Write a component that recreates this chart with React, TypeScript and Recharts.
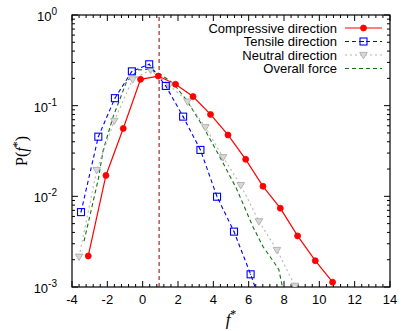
import React from 'react';
import { LineChart, Line, XAxis, YAxis, ReferenceLine, Customized } from 'recharts';

// ---- data ----
const compressiveF = [-3.08, -2.08, -1.1, -0.12, 0.88, 1.86, 2.85, 3.84, 4.83, 5.83, 6.81, 7.79, 8.77, 9.77, 10.75];
const compressiveP = [0.0022, 0.017, 0.056, 0.195, 0.212, 0.172, 0.126, 0.08, 0.0475, 0.0256, 0.0129, 0.0074, 0.00366, 0.00195, 0.00113];
const tensileF = [-3.49, -2.51, -1.57, -0.61, 0.37, 1.31, 2.29, 3.27, 4.21, 5.17, 6.11, 7.07];
const tensileP = [0.0067, 0.0455, 0.121, 0.239, 0.286, 0.165, 0.0757, 0.0325, 0.0099, 0.00408, 0.00138, 0.0004];
const neutralF = [-3.6, -2.6, -1.61, -0.57, 0.45, 1.5, 2.54, 3.55, 4.55, 5.55, 6.58, 7.6, 8.62];
const neutralP = [0.00216, 0.0195, 0.068, 0.195, 0.248, 0.169, 0.111, 0.0578, 0.027, 0.0133, 0.0053, 0.00256, 0.00103];
const overallF = [-3.32, -2.52, -2.23, -1.67, -0.91, -0.25, 0.41, 0.97, 1.72, 2.48, 3.42, 4.36, 5.3, 6.24, 6.81, 7.47, 7.71, 7.92];
const overallP = [0.0032, 0.0152, 0.0325, 0.0757, 0.184, 0.248, 0.252, 0.224, 0.177, 0.1156, 0.0587, 0.0274, 0.0123, 0.00463, 0.00279, 0.00183, 0.00155, 0.00098];
const meanForce = 0.93;

const xTicks = [-4, -2, 0, 2, 4, 6, 8, 10, 12, 14];
const yTicks = [0.001, 0.01, 0.1, 1];
const yTickExponents = ['-3', '-2', '-1', '0'];
const legendLabels = ['Compressive direction', 'Tensile direction', 'Neutral direction', 'Overall force'];

const toPoints = (xs: number[], ys: number[]) => xs.map((x, i) => ({ x, y: ys[i] }));
const compressiveData = toPoints(compressiveF, compressiveP);
const tensileData = toPoints(tensileF, tensileP);
const neutralData = toPoints(neutralF, neutralP);
const overallData = toPoints(overallF, overallP);

// ---- layout ----
const W = 404;
const H = 331;
const PL = 72, PT = 15, PR = 390, PB = 287;
const X_MIN = -4, X_MAX = 14;
const SANS = 'Liberation Sans, Arial, Helvetica, sans-serif';
const SERIF = 'Liberation Serif, Times New Roman, serif';

const RED = '#ff0000';
const BLUE = '#0000ff';
const GRAY = '#b4b4b4';
const GREEN = '#137013';
const DARKRED = '#8b0000';

const xPx = (v: number) => PL + ((v - X_MIN) / (X_MAX - X_MIN)) * (PR - PL);
const yPx = (v: number) => PT + (-Math.log10(v) / 3) * (PB - PT);

const Circle = (cx: number, cy: number, key?: any) => (
  <circle key={key} cx={cx} cy={cy} r={3} fill={RED} stroke={RED} strokeWidth={0.8} />
);
const Square = (cx: number, cy: number, key?: any) => (
  <g key={key}>
    <rect x={cx - 3.5} y={cy - 3.5} width={7} height={7} fill="none" stroke={BLUE} strokeWidth={1.1} />
    <rect x={cx - 0.5} y={cy - 0.5} width={1} height={1} fill={BLUE} />
  </g>
);
const TriDown = (cx: number, cy: number, key?: any) => (
  <path
    key={key}
    d={`M${cx - 3.8},${cy - 2.6} L${cx + 3.8},${cy - 2.6} L${cx},${cy + 3.8} Z`}
    fill="#d8d8d8"
    stroke={GRAY}
    strokeWidth={1}
  />
);

const dotFn = (shape: (cx: number, cy: number, key?: any) => React.ReactElement) => (props: any) => {
  const { cx, cy, key, index } = props;
  if (cx == null || cy == null || isNaN(cx) || isNaN(cy)) return <g key={key ?? index} />;
  return shape(cx, cy, key ?? `d${index}`);
};

const YTick = (props: any) => {
  const { x, y, payload, index } = props;
  const i = yTicks.indexOf(payload.value);
  const exp = yTickExponents[i >= 0 ? i : index];
  return (
    <text x={x - 15} y={y + 6} textAnchor="end" fontFamily={SANS} fontSize={13} fill="#000">
      10
      <tspan dy={-6} fontSize={10}>{exp}</tspan>
    </text>
  );
};

const Frame = () => {
  const lines: React.ReactElement[] = [];
  // x ticks (major every 2, minor every 0.4)
  for (let k = 0; k <= 45; k++) {
    const v = X_MIN + k * 0.4;
    const major = k % 5 === 0;
    const len = major ? 6 : 3;
    const px = xPx(v);
    lines.push(<line key={`xb${k}`} x1={px} x2={px} y1={PB} y2={PB - len} stroke="#000" strokeWidth={1} />);
    lines.push(<line key={`xt${k}`} x1={px} x2={px} y1={PT} y2={PT + len} stroke="#000" strokeWidth={1} />);
  }
  // y ticks (log)
  for (let d = -3; d <= 0; d++) {
    for (let m = 1; m <= 9; m++) {
      const v = m * Math.pow(10, d);
      if (v > 1.0001) continue;
      const major = m === 1;
      const len = major ? 6 : 3;
      const py = yPx(v);
      lines.push(<line key={`yl${d}${m}`} x1={PL} x2={PL + len} y1={py} y2={py} stroke="#000" strokeWidth={1} />);
      lines.push(<line key={`yr${d}${m}`} x1={PR} x2={PR - len} y1={py} y2={py} stroke="#000" strokeWidth={1} />);
    }
  }
  const rowY = [28, 41.5, 55, 68.5];
  const tx = 337;
  const sx1 = 345, sx2 = 382, mx = 363.5;
  return (
    <g>
      {lines}
      <rect x={PL} y={PT} width={PR - PL} height={PB - PT} fill="none" stroke="#000" strokeWidth={1.2} />
      {/* legend */}
      {legendLabels.map((lab, i) => (
        <text key={`lt${i}`} x={tx} y={rowY[i] + 4.6} textAnchor="end" fontFamily={SANS} fontSize={13} fill="#000">
          {lab}
        </text>
      ))}
      <line x1={sx1} x2={sx2} y1={rowY[0]} y2={rowY[0]} stroke={RED} strokeWidth={1.2} />
      {Circle(mx, rowY[0])}
      <line x1={sx1} x2={sx2} y1={rowY[1]} y2={rowY[1]} stroke={BLUE} strokeWidth={1.1} strokeDasharray="4 3" />
      {Square(mx, rowY[1])}
      <line x1={sx1} x2={sx2} y1={rowY[2]} y2={rowY[2]} stroke={GRAY} strokeWidth={1.1} strokeDasharray="2 3" />
      {TriDown(mx, rowY[2])}
      <line x1={sx1} x2={sx2} y1={rowY[3]} y2={rowY[3]} stroke={GREEN} strokeWidth={1.1} strokeDasharray="4 3" />
      {/* axis titles */}
      <text x={231} y={325} textAnchor="middle" fontFamily={SERIF} fontSize={17} fill="#000">
        <tspan fontStyle="italic">f</tspan>
        <tspan dy={-7} fontSize={12}>*</tspan>
      </text>
      <text
        x={0}
        y={0}
        transform="translate(27,151) rotate(-90)"
        textAnchor="middle"
        fontFamily={SERIF}
        fontSize={16}
        fill="#000"
      >
        P(<tspan fontStyle="italic">f</tspan>
        <tspan dy={-6} fontSize={12}>*</tspan>
        <tspan dy={6}>)</tspan>
      </text>
    </g>
  );
};

export default function App() {
  return (
    <div style={{ position: 'absolute', left: 0, top: 0, width: W, height: H, background: '#fff' }}>
      <LineChart width={W} height={H} margin={{ top: PT, right: W - PR, bottom: 0, left: 0 }}>
        <XAxis
          type="number"
          dataKey="x"
          domain={[X_MIN, X_MAX]}
          ticks={xTicks}
          interval={0}
          allowDataOverflow
          height={H - PB}
          axisLine={false}
          tickLine={false}
          tickSize={0}
          tickMargin={8}
          tick={{ fontSize: 13, fill: '#000', fontFamily: SANS }}
        />
        <YAxis
          type="number"
          dataKey="y"
          scale="log"
          domain={[0.001, 1]}
          ticks={yTicks}
          interval={0}
          allowDataOverflow
          width={PL}
          axisLine={false}
          tickLine={false}
          tickSize={0}
          tickMargin={0}
          tick={<YTick />}
        />
        <ReferenceLine x={meanForce} stroke={DARKRED} strokeWidth={1} strokeDasharray="4 3" />
        <Line
          data={overallData}
          dataKey="y"
          name="Overall force"
          type="linear"
          stroke={GREEN}
          strokeWidth={1.1}
          strokeDasharray="4 3"
          dot={false}
          isAnimationActive={false}
        />
        <Line
          data={neutralData}
          dataKey="y"
          name="Neutral direction"
          type="linear"
          stroke={GRAY}
          strokeWidth={1.1}
          strokeDasharray="2 3"
          dot={dotFn(TriDown)}
          isAnimationActive={false}
        />
        <Line
          data={tensileData}
          dataKey="y"
          name="Tensile direction"
          type="linear"
          stroke={BLUE}
          strokeWidth={1.1}
          strokeDasharray="4 3"
          dot={dotFn(Square)}
          isAnimationActive={false}
        />
        <Line
          data={compressiveData}
          dataKey="y"
          name="Compressive direction"
          type="linear"
          stroke={RED}
          strokeWidth={1.2}
          dot={dotFn(Circle)}
          isAnimationActive={false}
        />
        <Customized component={Frame} />
      </LineChart>
    </div>
  );
}
